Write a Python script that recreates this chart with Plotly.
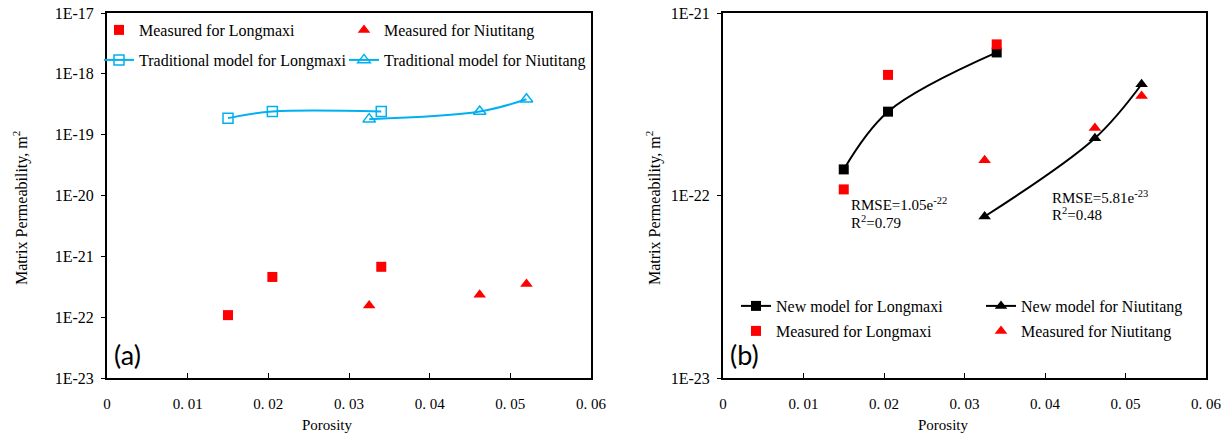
import plotly.graph_objects as go

# Porosity of the samples
por_longmaxi = [0.015, 0.0205, 0.034]
por_niutitang = [0.0325, 0.0462, 0.052]

# Measured matrix permeability, m^2
meas_longmaxi = [1.08e-22, 4.58e-22, 6.73e-22]
meas_niutitang = [1.56e-22, 2.34e-22, 3.51e-22]

# Traditional model predictions, m^2
trad_longmaxi = [1.87e-19, 2.40e-19, 2.40e-19]
trad_niutitang = [1.80e-19, 2.40e-19, 3.82e-19]

# New model predictions, m^2
new_longmaxi = [1.39e-22, 2.88e-22, 6.08e-22]
new_niutitang = [7.67e-23, 2.06e-22, 4.07e-22]

x_ticks = [0, 0.01, 0.02, 0.03, 0.04, 0.05, 0.06]
x_ticktext = ["0", "0. 01", "0. 02", "0. 03", "0. 04", "0. 05", "0. 06"]
y_ticks_a = [1e-23, 1e-22, 1e-21, 1e-20, 1e-19, 1e-18, 1e-17]
y_ticktext_a = ["1E-23", "1E-22", "1E-21", "1E-20", "1E-19", "1E-18", "1E-17"]
y_ticks_b = [1e-23, 1e-22, 1e-21]
y_ticktext_b = ["1E-23", "1E-22", "1E-21"]

W, H = 1230, 438
SERIF = "Liberation Serif"
RED = "#FF0000"
BLUE = "#00B0F0"


def px(xp):
    return xp / W


def py(yp):
    return 1 - yp / H


fig = go.Figure()

# ---- panel (a) ----
fig.add_trace(go.Scatter(
    x=por_longmaxi, y=meas_longmaxi, mode="markers", name="Measured for Longmaxi",
    marker=dict(symbol="square", size=10, color=RED), xaxis="x", yaxis="y", legend="legend"))
fig.add_trace(go.Scatter(
    x=por_niutitang, y=meas_niutitang, mode="markers", name="Measured for Niutitang",
    marker=dict(symbol="triangle-up", size=11, color=RED), xaxis="x", yaxis="y", legend="legend2"))
fig.add_trace(go.Scatter(
    x=por_longmaxi, y=trad_longmaxi, mode="lines+markers", name="Traditional model for Longmaxi",
    line=dict(color=BLUE, width=2, shape="spline"),
    marker=dict(symbol="square-open", size=10, color=BLUE, line=dict(width=1.5)),
    xaxis="x", yaxis="y", legend="legend3"))
fig.add_trace(go.Scatter(
    x=por_niutitang, y=trad_niutitang, mode="lines+markers", name="Traditional model for Niutitang",
    line=dict(color=BLUE, width=2, shape="spline"),
    marker=dict(symbol="triangle-up-open", size=11, color=BLUE, line=dict(width=1.5)),
    xaxis="x", yaxis="y", legend="legend4"))

# ---- panel (b) ----
fig.add_trace(go.Scatter(
    x=por_longmaxi, y=new_longmaxi, mode="lines+markers", name="New model for Longmaxi",
    line=dict(color="black", width=2, shape="spline"),
    marker=dict(symbol="square", size=10, color="black"),
    xaxis="x2", yaxis="y2", legend="legend5"))
fig.add_trace(go.Scatter(
    x=por_niutitang, y=new_niutitang, mode="lines+markers", name="New model for Niutitang",
    line=dict(color="black", width=2, shape="spline"),
    marker=dict(symbol="triangle-up", size=11, color="black"),
    xaxis="x2", yaxis="y2", legend="legend6"))
fig.add_trace(go.Scatter(
    x=por_longmaxi, y=meas_longmaxi, mode="markers", name="Measured for Longmaxi",
    marker=dict(symbol="square", size=10, color=RED), xaxis="x2", yaxis="y2", legend="legend7"))
fig.add_trace(go.Scatter(
    x=por_niutitang, y=meas_niutitang, mode="markers", name="Measured for Niutitang",
    marker=dict(symbol="triangle-up", size=11, color=RED), xaxis="x2", yaxis="y2", legend="legend8"))

legend_font = dict(family=SERIF, size=16, color="black")


def legend_at(xp, yp):
    return dict(x=px(xp), y=py(yp), xanchor="left", yanchor="middle",
                orientation="v", bgcolor="rgba(0,0,0,0)", borderwidth=0,
                font=legend_font, itemclick=False, itemdoubleclick=False)


xaxis_common = dict(
    range=[0, 0.06], tickvals=x_ticks, ticktext=x_ticktext, automargin=False,
    showline=True, mirror=True, linecolor="black", linewidth=2,
    ticks="inside", ticklen=5, tickcolor="black", tickwidth=1,
    showgrid=False, zeroline=False, ticklabelstandoff=11,
    tickfont=dict(family=SERIF, size=15, color="black"),
)
yaxis_common = dict(
    type="log", automargin=False, showline=True, mirror=True, linecolor="black", linewidth=2,
    ticks="outside", ticklen=4, tickcolor="black", tickwidth=1,
    showgrid=False, zeroline=False, ticklabelstandoff=4,
    tickfont=dict(family=SERIF, size=16, color="black"),
)

y_dom = [py(378), py(13)]

fig.update_layout(
    width=W, height=H,
    margin=dict(l=0, r=0, t=0, b=0, autoexpand=False),
    paper_bgcolor="white", plot_bgcolor="white",
    xaxis=dict(domain=[px(107), px(591)], anchor="y", **xaxis_common),
    yaxis=dict(domain=y_dom, anchor="x", range=[-23, -17],
               tickvals=y_ticks_a, ticktext=y_ticktext_a, **yaxis_common),
    xaxis2=dict(domain=[px(723), px(1206)], anchor="y2", **xaxis_common),
    yaxis2=dict(domain=y_dom, anchor="x2", range=[-23, -21],
                tickvals=y_ticks_b, ticktext=y_ticktext_b, **yaxis_common),
    legend=legend_at(99, 30),
    legend2=legend_at(344, 30),
    legend3=legend_at(99, 60),
    legend4=legend_at(344, 60),
    legend5=legend_at(736, 306),
    legend6=legend_at(981, 306),
    legend7=legend_at(736, 331),
    legend8=legend_at(981, 331),
    showlegend=True,
)

annotations = [
    # axis titles
    dict(text="Porosity", x=px(327), y=py(425), size=15),
    dict(text="Porosity", x=px(943), y=py(425), size=15),
    dict(text="Matrix Permeability, m<sup>2</sup>", x=px(20), y=py(208), textangle=-90, size=16),
    dict(text="Matrix Permeability, m<sup>2</sup>", x=px(653), y=py(208), textangle=-90, size=16),
    # fit statistics
    dict(text="RMSE=1.05e<sup>-22</sup>", x=px(849), y=py(204), xanchor="left", size=15),
    dict(text="R<sup>2</sup>=0.79", x=px(849), y=py(222), xanchor="left", size=15),
    dict(text="RMSE=5.81e<sup>-23</sup>", x=px(1050), y=py(197), xanchor="left", size=15),
    dict(text="R<sup>2</sup>=0.48", x=px(1050), y=py(214), xanchor="left", size=15),
]
for a in annotations:
    a.setdefault("xanchor", "center")
    size = a.pop("size")
    fig.add_annotation(xref="paper", yref="paper", showarrow=False, yanchor="middle",
                       font=dict(family=SERIF, size=size, color="black"), **a)

# panel labels
for label, xp in [("(a)", 112), ("(b)", 728)]:
    fig.add_annotation(text=label, xref="paper", yref="paper", x=px(xp), y=py(354),
                       xanchor="left", yanchor="middle", showarrow=False,
                       font=dict(family="Lato", size=27, color="black"))

fig.write_html("out.html")
